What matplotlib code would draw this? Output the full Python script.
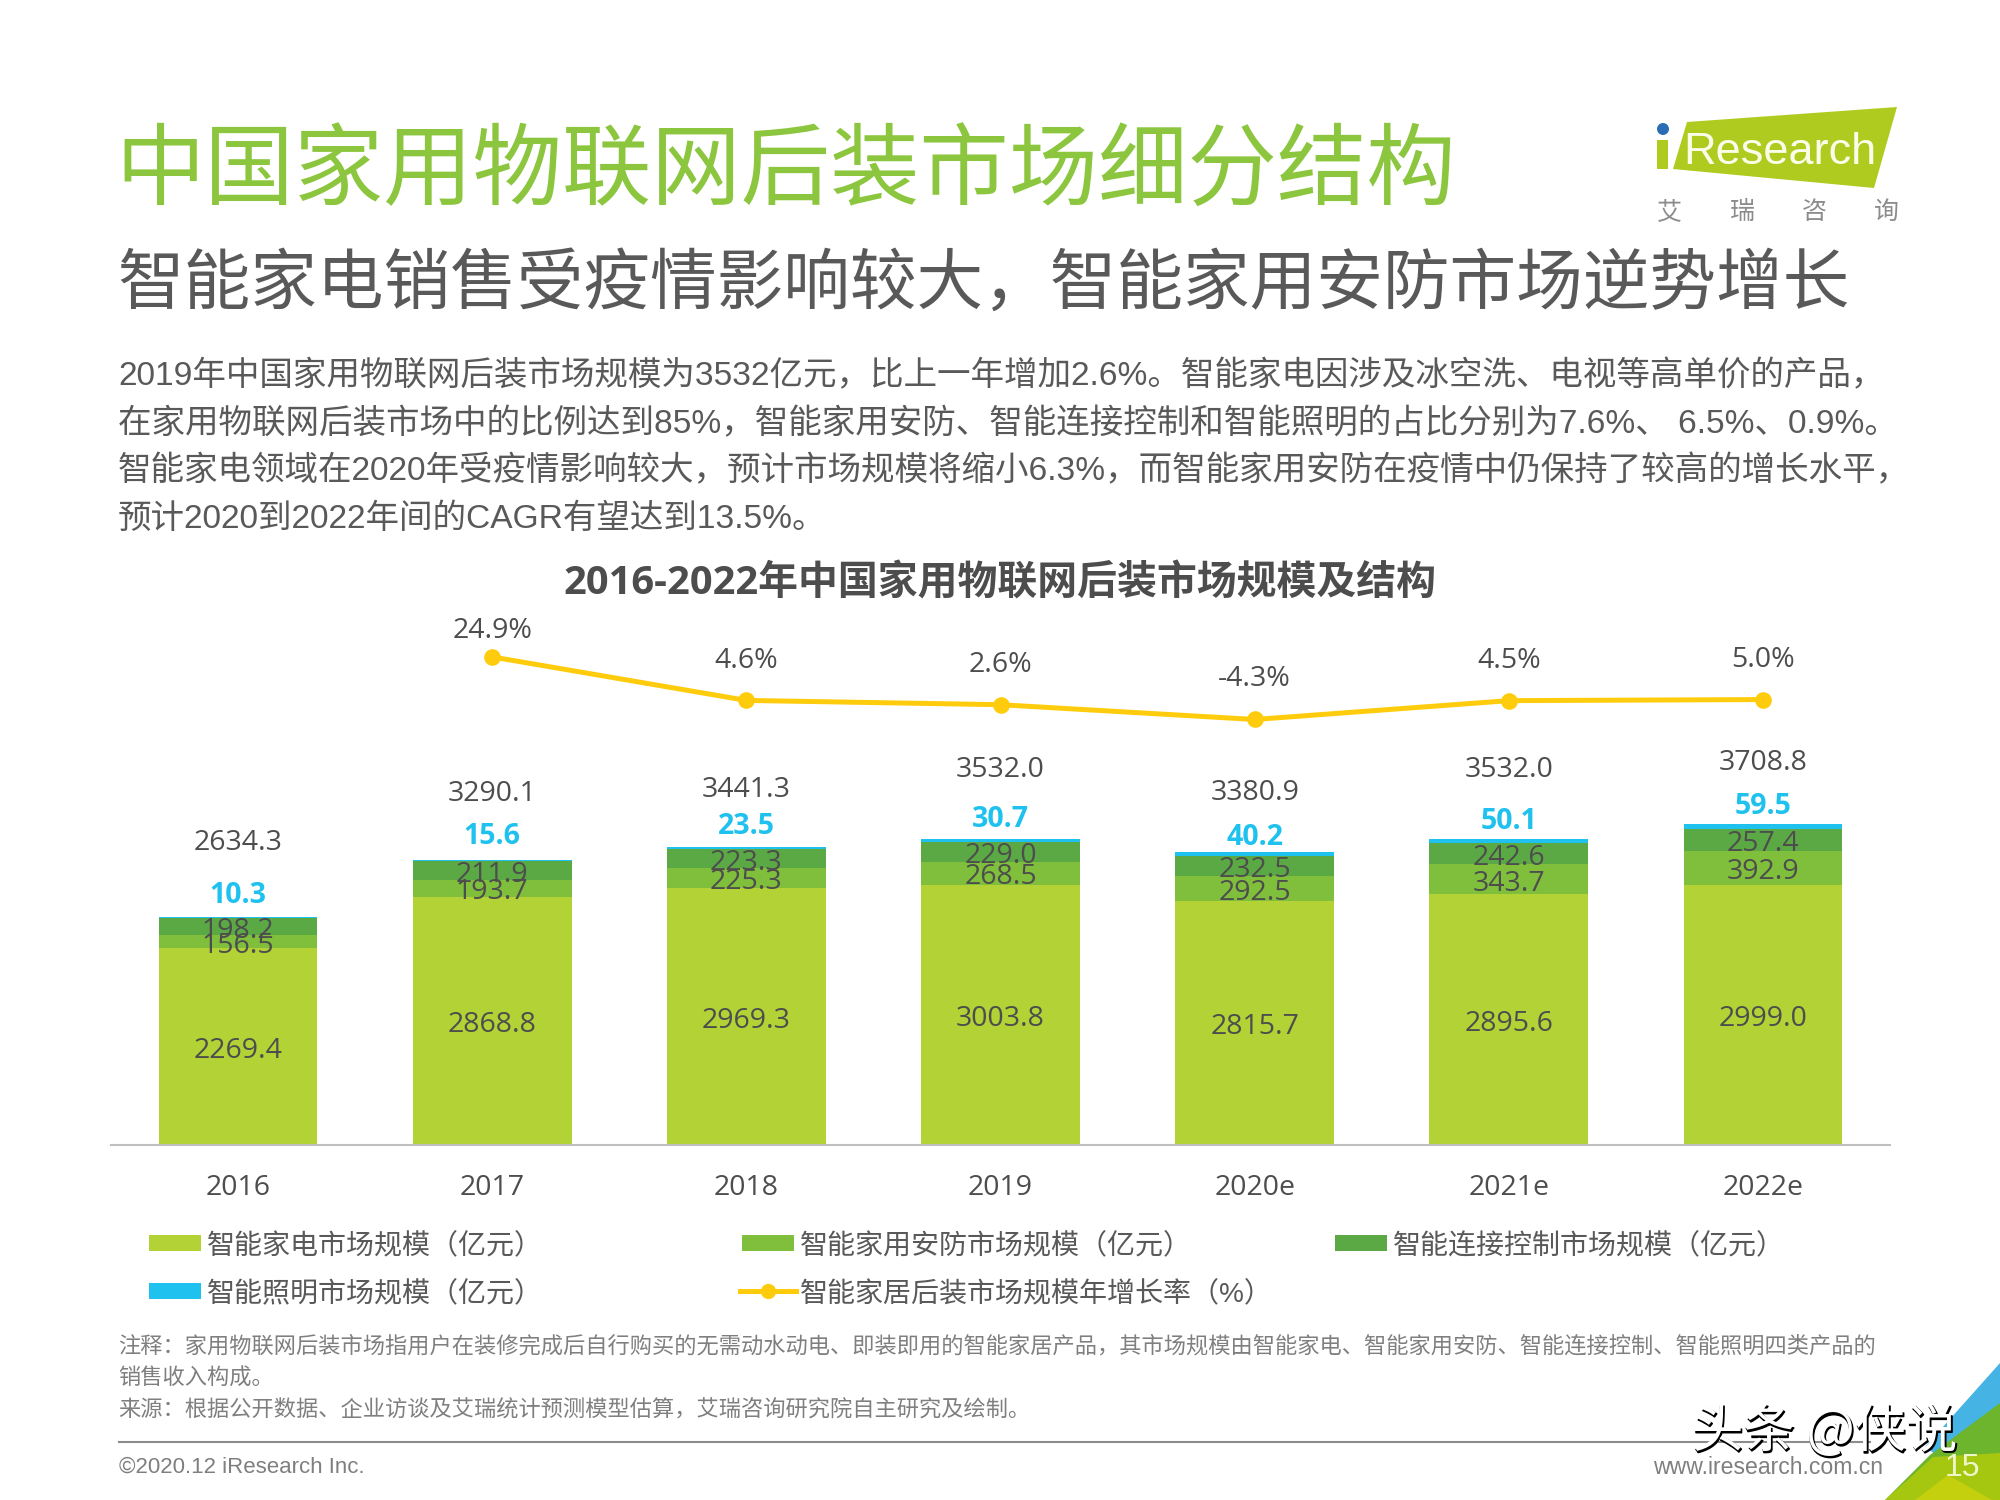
import numpy as np
import matplotlib
matplotlib.use('Agg')
import matplotlib.pyplot as plt
import matplotlib.patheffects as pe
from matplotlib.patches import Polygon, Rectangle, Circle

CJK = 'Noto Sans CJK SC'
NUM_FONT = ['Open Sans', CJK]
BODY_FONT = ['Liberation Sans', CJK]
plt.rcParams['font.family'] = BODY_FONT

# 全角标点
COMMA = '\uff0c'
COLON = '\uff1a'
UNIT = '\uff08\u4ebf\u5143\uff09'

# 数据
years = ['2016', '2017', '2018', '2019', '2020e', '2021e', '2022e']
appliance = [2269.4, 2868.8, 2969.3, 3003.8, 2815.7, 2895.6, 2999.0]
security = [156.5, 193.7, 225.3, 268.5, 292.5, 343.7, 392.9]
control = [198.2, 211.9, 223.3, 229.0, 232.5, 242.6, 257.4]
lighting = [10.3, 15.6, 23.5, 30.7, 40.2, 50.1, 59.5]
totals = [2634.3, 3290.1, 3441.3, 3532.0, 3380.9, 3532.0, 3708.8]
growth = [np.nan, 24.9, 4.6, 2.6, -4.3, 4.5, 5.0]

# 标签偏移 (px)
total_dy = [74, 66, 57, 69, 59, 69, 61]
light_dy = [21, 24, 20, 20, 15, 18, 17]
growth_dy = [0, 26, 39, 40, 40, 40, 40]

C_APPL = '#B2D235'
C_SEC = '#7FBF3C'
C_CTRL = '#5BA945'
C_LIGHT = '#1FC1EE'
C_LINE = '#FFCC0D'
C_TEXT = '#4D4D4D'
C_BODY = '#595959'
C_NOTE = '#7F7F7F'

title = '中国家用物联网后装市场细分结构'
subtitle = f'智能家电销售受疫情影响较大{COMMA}智能家用安防市场逆势增长'
body_lines = [
    f'2019年中国家用物联网后装市场规模为3532亿元{COMMA}比上一年增加2.6%。智能家电因涉及冰空洗、电视等高单价的产品{COMMA}',
    f'在家用物联网后装市场中的比例达到85%{COMMA}智能家用安防、智能连接控制和智能照明的占比分别为7.6%、 6.5%、0.9%。',
    f'智能家电领域在2020年受疫情影响较大{COMMA}预计市场规模将缩小6.3%{COMMA}而智能家用安防在疫情中仍保持了较高的增长水平{COMMA}',
    '预计2020到2022年间的CAGR有望达到13.5%。',
]
chart_title = '2016-2022年中国家用物联网后装市场规模及结构'
note_lines = [
    f'注释{COLON}家用物联网后装市场指用户在装修完成后自行购买的无需动水动电、即装即用的智能家居产品{COMMA}其市场规模由智能家电、智能家用安防、智能连接控制、智能照明四类产品的',
    '销售收入构成。',
    f'来源{COLON}根据公开数据、企业访谈及艾瑞统计预测模型估算{COMMA}艾瑞咨询研究院自主研究及绘制。',
]

fig = plt.figure(figsize=(20, 15), dpi=100, facecolor='white')

# 整页像素坐标层
page = fig.add_axes([0, 0, 1, 1], zorder=0)
page.set_xlim(0, 2000)
page.set_ylim(1500, 0)
page.axis('off')

page.text(115, 176, title, fontsize=64.4, color='#8CC63F', va='center')
page.text(117, 286, subtitle, fontsize=48, color=C_BODY, va='center')
for y, line in zip([376, 424, 471, 519], body_lines):
    page.text(118, y, line, fontsize=24.15, color=C_BODY, va='center')
page.text(1000, 584, chart_title, fontsize=28.7, color=C_TEXT, weight='bold', family=NUM_FONT,
          ha='center', va='center')

# logo
page.add_patch(Polygon([(1687, 122), (1897, 107), (1874, 188), (1673, 169)], color='#AFCB1F', lw=0))
page.add_patch(Rectangle((1657, 140), 11, 29, color='#AFCB1F', lw=0))
page.add_patch(Circle((1663, 129), 6, color='#2A6DB5', lw=0))
page.text(1683, 153, 'Research', fontsize=32.5, color='#FBFDE8', va='center')
for x, ch in zip([1669, 1742, 1814, 1886], '艾瑞咨询'):
    page.text(x, 212, ch, fontsize=18, color='#8C8C8C', ha='center', va='center')

# 图例
legend_bar = [(149, 1243, C_APPL, '智能家电市场规模' + UNIT),
              (742, 1243, C_SEC, '智能家用安防市场规模' + UNIT),
              (1335, 1243, C_CTRL, '智能连接控制市场规模' + UNIT),
              (149, 1291, C_LIGHT, '智能照明市场规模' + UNIT)]
for x, y, c, lab in legend_bar:
    page.add_patch(Rectangle((x, y - 8), 52, 16, color=c, lw=0))
    page.text(x + 58, y + 3, lab, fontsize=20.2, color=C_BODY, va='center')
page.plot([740, 796], [1291, 1291], color=C_LINE, lw=3.6)
page.plot([768], [1291], color=C_LINE, marker='o', ms=11, mew=0)
page.text(800, 1294, '智能家居后装市场规模年增长率\uff08%\uff09', fontsize=20.2, color=C_BODY, va='center')

# 注释
for y, line in zip([1347, 1379, 1411], note_lines):
    page.text(118, y, line, fontsize=16, color=C_NOTE, va='center')

# 页脚
page.plot([119, 1870], [1442, 1442], color='#8C8C8C', lw=1.5)
page.text(119, 1467, '©2020.12 iResearch Inc.', fontsize=16, color=C_NOTE, va='center')
page.text(1883, 1468, 'www.iresearch.com.cn', fontsize=16.6, color=C_NOTE, ha='right', va='center')

# 右下角三角
page.add_patch(Polygon([(2000, 1363), (1925, 1447), (2000, 1500)], color='#45B4E5', lw=0))
page.add_patch(Polygon([(2000, 1403), (1930, 1455), (1885, 1500), (2000, 1500)], color='#6CB52D', lw=0))
page.add_patch(Polygon([(1885, 1500), (1933, 1457), (2000, 1453), (2000, 1500)], color='#A5C70F', lw=0))
page.add_patch(Polygon([(1915, 1500), (1948, 1475), (1992, 1500)], color='#C4CF0E', lw=0))
page.text(1962, 1468, '15', fontsize=23, color='#EEF5C8', ha='center', va='center')

# 水印
page.text(1693, 1434, '头条 @侠说', fontsize=37, color='black', va='center', family=[CJK],
          path_effects=[pe.withStroke(linewidth=1, foreground='black')])
page.text(1692, 1432, '头条 @侠说', fontsize=37, color='white', va='center', family=[CJK])

# 堆叠柱
ax = fig.add_axes([111 / 2000, (1500 - 1145) / 1500, 1779 / 2000, 346.4 / 1500], zorder=1)
ax.patch.set_alpha(0)
x = np.arange(len(years))
bottom = np.zeros(len(years))
for vals, c in [(appliance, C_APPL), (security, C_SEC), (control, C_CTRL), (lighting, C_LIGHT)]:
    ax.bar(x, vals, 0.625, bottom=bottom, color=c, lw=0)
    if c != C_LIGHT:
        for xi, b, v in zip(x, bottom, vals):
            ax.annotate(f'{v:.1f}', (xi, b + v / 2), xytext=(0, -3), textcoords='offset points',
                        ha='center', va='center', fontsize=20.5,
                        color=C_TEXT, family=NUM_FONT, zorder=5)
    bottom = bottom + np.array(vals)

for xi, top, v, t, dl, dt in zip(x, bottom, lighting, totals, light_dy, total_dy):
    ax.annotate(f'{v:.1f}', (xi, top), xytext=(0, dl * 0.72), textcoords='offset points',
                ha='center', va='center', fontsize=20.5, weight='bold', color=C_LIGHT, family=NUM_FONT,
                annotation_clip=False)
    ax.annotate(f'{t:.1f}', (xi, top), xytext=(0, dt * 0.72), textcoords='offset points',
                ha='center', va='center', fontsize=20.5, color=C_TEXT, family=NUM_FONT,
                annotation_clip=False)

ax.set_xlim(-0.5, len(years) - 0.5)
ax.set_ylim(0, 4000)
ax.set_yticks([])
ax.set_xticks(x, years, fontsize=20.5, color=C_TEXT, family=NUM_FONT)
ax.tick_params(axis='x', length=0, pad=21)
for s in ['top', 'left', 'right']:
    ax.spines[s].set_visible(False)
ax.spines['bottom'].set_color('#BFBFBF')
ax.spines['bottom'].set_linewidth(1.5)

# 增长率折线
ax2 = fig.add_axes([111 / 2000, (1500 - 731.7) / 1500, 1779 / 2000, 85.7 / 1500], zorder=2)
ax2.patch.set_alpha(0)
ax2.plot(x, growth, color=C_LINE, lw=3.6, marker='o', ms=12, mew=0, clip_on=False)
for xi, g, d in zip(x, growth, growth_dy):
    if not np.isnan(g):
        ax2.annotate(f'{g:.1f}%', (xi, g), xytext=(0, d * 0.72), textcoords='offset points',
                     ha='center', va='center', fontsize=20.5, color=C_TEXT, family=NUM_FONT,
                     annotation_clip=False)
ax2.set_xlim(-0.5, len(years) - 0.5)
ax2.set_ylim(-10, 30)
ax2.axis('off')

fig.savefig('out.png', dpi=100)
